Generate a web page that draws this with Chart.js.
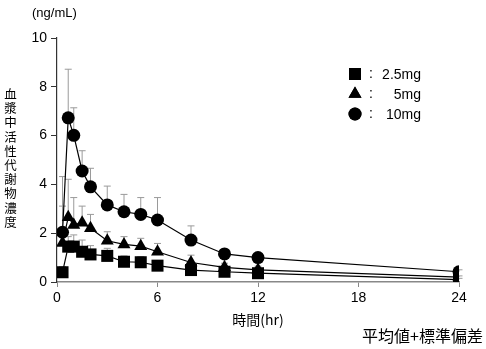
<!DOCTYPE html><html lang="ja"><head><meta charset="utf-8">
<title>血漿中活性代謝物濃度</title>
<script src="https://cdn.jsdelivr.net/npm/chart.js@4"></script>
<style>
body {
  margin: 0;
  background: #fff;
  font-family: "Liberation Sans", Arial, "Noto Sans CJK JP", sans-serif;
}
#wrap { position: relative; width: 486px; height: 349px; }
#c { position: absolute; left: 0; top: 0; }
.t { position: absolute; color: #000; white-space: nowrap; }
#unit { left: 32px; top: 5px; font-size: 13px; }
#ytitle { left: 4px; top: 87px; width: 13px; font-size: 12.5px; line-height: 14.2px; white-space: normal; word-break: break-all; text-align: center; font-family: "Noto Sans CJK JP", sans-serif; }
#note { right: 3px; top: 323px; font-size: 16px; font-family: "Noto Sans CJK JP", serif; }
</style>
</head><body>
<div id=wrap>
<canvas id=c width=486 height=349></canvas>
<div class=t id=unit>(ng/mL)</div>
<div class=t id=ytitle>血漿中活性代謝物濃度</div>
<div class=t id=note>平均値+標準偏差</div>
</div>

<script>
// 採血時間 (hr)
const hours = [0.33, 0.67, 1, 1.5, 2, 3, 4, 5, 6, 8, 10, 12, 24];
// 平均値
const mean25 = [0.4, 1.45, 1.45, 1.24, 1.13, 1.07, 0.83, 0.81, 0.67, 0.49, 0.42, 0.36, 0.1];
const mean5 = [1.6, 2.65, 2.34, 2.43, 2.2, 1.69, 1.54, 1.47, 1.24, 0.8, 0.6, 0.5, 0.2];
const mean10 = [2.04, 6.73, 6.01, 4.55, 3.9, 3.16, 2.88, 2.77, 2.54, 1.72, 1.15, 1.0, 0.42];
// 標準偏差
const sd25 = [0.23, 0.41, 0.48, 0.48, 0.36, 0.31, 0.24, 0.23, 0.16, 0.14, 0.08, 0.09, 0.05];
const sd5 = [1.51, 1.56, 1.12, 0.68, 0.57, 0.37, 0.32, 0.32, 0.34, 0.3, 0.17, 0.15, 0.05];
const sd10 = [2.28, 1.99, 1.13, 0.83, 0.76, 0.77, 0.71, 0.69, 0.92, 0.58, 0.19, 0.05, 0.08];
const doseLabels = ["2.5mg", "5mg", "10mg"];
const xTicks = [0, 6, 12, 18, 24];
const yTicks = [0, 2, 4, 6, 8, 10];

const pts = (m) => hours.map((h, i) => ({ x: h, y: m[i] }));
const ds = (label, m, sd, style, r) => ({
  label, data: pts(m), sd,
  borderColor: "#000", borderWidth: 1.2,
  pointStyle: style, pointRadius: r, pointHoverRadius: r,
  pointBackgroundColor: "#000", pointBorderColor: "#000", pointBorderWidth: 0,
  tension: 0,
});

const errorBars = {
  id: "errorBars",
  beforeDatasetsDraw(chart) {
    const { ctx, scales: { x, y } } = chart;
    ctx.save();
    ctx.strokeStyle = "#9a9a9a";
    ctx.lineWidth = 1;
    chart.data.datasets.forEach(d => {
      d.data.forEach((p, i) => {
        const px = x.getPixelForValue(p.x);
        const y0 = y.getPixelForValue(p.y);
        const y1 = y.getPixelForValue(p.y + d.sd[i]);
        ctx.beginPath();
        ctx.moveTo(px, y0); ctx.lineTo(px, y1);
        ctx.moveTo(px - 3.5, y1); ctx.lineTo(px + 3.5, y1);
        ctx.stroke();
      });
    });
    ctx.restore();
  },
};

const legendBox = {
  id: "legendBox",
  afterDraw(chart) {
    const { ctx } = chart;
    const rows = [74, 94, 114];
    ctx.save();
    ctx.font = "14px 'Liberation Sans', Arial, sans-serif";
    ctx.fillStyle = "#000";
    ctx.textBaseline = "middle";
    chart.data.datasets.forEach((d, i) => {
      const yy = rows[i];
      Chart.helpers.drawPoint(ctx, { pointStyle: d.pointStyle, radius: d.pointRadius, borderWidth: 0 }, 355, yy);
      ctx.fill();
      ctx.textAlign = "left";
      ctx.fillText(":", 369, yy);
      ctx.textAlign = "right";
      ctx.fillText(d.label, 421, yy + 1);
    });
    ctx.restore();
  },
};

const tickFont = { family: "'Liberation Sans', Arial, sans-serif", size: 14 };

new Chart(document.getElementById("c"), {
  type: "line",
  data: {
    datasets: [
      ds(doseLabels[0], mean25, sd25, "rect", 8.5),
      ds(doseLabels[1], mean5, sd5, "triangle", 7.5),
      ds(doseLabels[2], mean10, sd10, "circle", 6.5),
    ],
  },
  options: {
    responsive: false,
    animation: false,
    layout: { padding: { top: 38, right: 27, left: 0, bottom: 0 } },
    plugins: { legend: { display: false }, tooltip: { enabled: false } },
    scales: {
      x: {
        type: "linear", min: 0, max: 24,
        afterBuildTicks: s => { s.ticks = xTicks.map(v => ({ value: v })); },
        afterFit: s => { s.height = 67; },
        ticks: { font: tickFont, color: "#000", padding: 3, maxRotation: 0 },
        grid: { drawOnChartArea: false, tickLength: 5, color: "#888" },
        border: { color: "#888", width: 1.5 },
        title: {
          display: true, text: "時間(hr)", color: "#000",
          font: { family: "'Noto Sans CJK JP', sans-serif", size: 14 },
          padding: { top: 0, bottom: 21 },
        },
      },
      y: {
        min: 0, max: 10,
        afterBuildTicks: s => { s.ticks = yTicks.map(v => ({ value: v })); },
        afterFit: s => { s.width = 57; },
        ticks: { font: tickFont, color: "#000", padding: 4 },
        grid: { drawOnChartArea: false, tickLength: 6, color: "#333" },
        border: { color: "#333", width: 1.2 },
      },
    },
  },
  plugins: [errorBars, legendBox],
});
</script>
</body>
</html>
